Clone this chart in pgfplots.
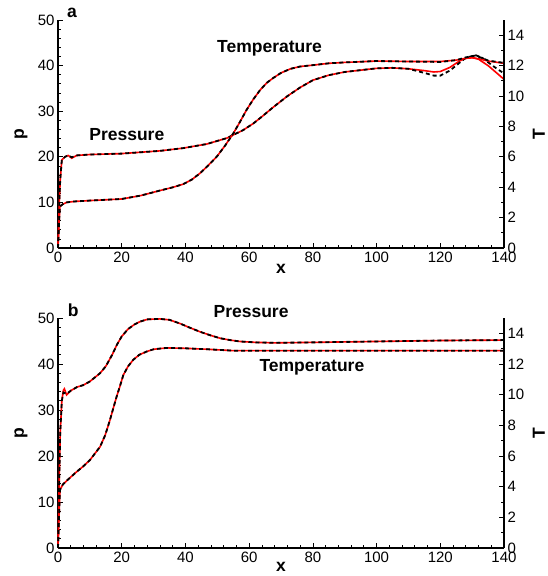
\documentclass[border=0pt]{standalone}
\usepackage{fontspec}
\setmainfont{Liberation Sans}
\usepackage{pgfplots}
\pgfplotsset{compat=1.18}
\begin{document}
\begin{tikzpicture}
\useasboundingbox (0,0) rectangle (548pt,576pt);
\tikzset{
  redl/.style={red, line width=1.6pt},
  blkl/.style={black, line width=1.8pt, dash pattern=on 4pt off 3pt},
  lbl/.style={font=\fontsize{17.5}{17.5}\selectfont\bfseries}
}
\pgfplotsset{
  base/.style={scale only axis, width=446pt, xmin=0, xmax=140,
    tick align=inside, axis line style={line width=1.1pt},
    major tick length=5pt, minor tick length=3pt,
    every tick/.style={black, line width=0.7pt},
    tick label style={font=\fontsize{15}{15}\selectfont},
    /pgf/number format/assume math mode=true, clip=false,
    label style={font=\fontsize{17.5}{17.5}\selectfont\bfseries}},
  leftax/.style={base, axis x line*=bottom, axis y line*=left,
    ymin=0, ymax=50, ytick={0,10,...,50}, xtick={0,20,...,140},
    minor x tick num=4, minor y tick num=4,
    xlabel={x}, ylabel={p},
    ylabel style={at={(axis description cs:-0.083,0.5)}, anchor=center, rotate=0}},
  rightax/.style={base, axis y line*=right, axis x line=none,
    ymin=0, ymax=15, ytick={0,2,...,14}, minor y tick num=1,
    ylabel={T},
    ylabel style={at={(axis description cs:1.078,0.5)}, anchor=center, rotate=0}}
}
% ---------- panel a ----------
\begin{axis}[leftax, height=228pt, at={(58pt,328pt)}, anchor=south west,
  xlabel style={at={(axis description cs:0.5,-0.09)}, anchor=center}]
\addplot[redl] coordinates {(0,0) (0.3,8) (0.7,15) (1.2,19.3) (2.2,20.0) (3.2,20.3) (4.3,19.7) (5.9,20.3) (10,20.5) (20,20.7) (32,21.3) (39.3,21.9) (46.7,22.8) (53,24.1) (55,24.8) (58,25.8) (61.3,27.3) (64,28.8) (67.6,30.9) (72,33.3) (76,35.2) (80,36.8) (85,37.9) (90,38.6) (95,39.0) (100,39.4) (105,39.5) (110,39.3) (115,38.9) (118,38.6) (120,38.7) (123,39.6) (126,41.0) (128,41.6) (130,41.8) (132,41.4) (135,40.0) (138,38.2) (140,37.0)};
\addplot[blkl] coordinates {(0,0) (0.3,8) (0.7,15) (1.2,19.3) (2.2,20.0) (3.2,20.3) (4.3,19.9) (5.9,20.3) (10,20.5) (20,20.7) (32,21.3) (39.3,21.9) (46.7,22.8) (53,24.1) (55,24.8) (58,25.8) (61.3,27.3) (64,28.8) (67.6,30.9) (72,33.3) (76,35.2) (80,36.8) (85,37.9) (90,38.6) (95,39.0) (100,39.4) (105,39.5) (110,39.3) (115,38.4) (118,37.8) (120,37.8) (123,38.9) (126,40.6) (128,41.7) (131,42.3) (133,41.8) (136,40.2) (138,39.2) (140,38.3)};
\addplot[redl] coordinates {(0,0) (0.3,5) (0.6,9.1) (1.5,9.6) (2.7,10.0) (5,10.2) (10,10.4) (20,10.75) (26,11.5) (32,12.6) (36,13.3) (39.3,14.0) (42,15.0) (44.6,16.4) (47,18.0) (49.8,20.0) (52.5,22.5) (55,25.1) (57,27.5) (59.2,30.3) (61.3,32.6) (63.4,34.6) (65.5,36.2) (67.6,37.3) (70,38.4) (73,39.3) (76,39.8) (80,40.1) (85,40.5) (90,40.7) (100,41.0) (110,40.9) (120,40.9) (125,41.2) (128,41.6) (130,41.7) (132,41.5) (135,41.0) (138,40.7) (140,40.5)};
\addplot[blkl] coordinates {(0,0) (0.3,5) (0.6,9.1) (1.5,9.6) (2.7,10.0) (5,10.2) (10,10.4) (20,10.75) (26,11.5) (32,12.6) (36,13.3) (39.3,14.0) (42,15.0) (44.6,16.4) (47,18.0) (49.8,20.0) (52.5,22.5) (55,25.1) (57,27.5) (59.2,30.3) (61.3,32.6) (63.4,34.6) (65.5,36.2) (67.6,37.3) (70,38.4) (73,39.3) (76,39.8) (80,40.1) (85,40.5) (90,40.7) (100,41.0) (110,40.9) (120,40.8) (125,41.2) (128,41.8) (131,42.2) (133,41.7) (135,41.1) (138,40.8) (140,40.6)};
\node[lbl] at (axis cs:21.6,24.8) {Pressure};
\node[lbl] at (axis cs:66.4,43.9) {Temperature};
\node[lbl] at (axis cs:4.4,51.5) {a};
\end{axis}
\begin{axis}[rightax, height=228pt, at={(58pt,328pt)}, anchor=south west]
\end{axis}
% ---------- panel b ----------
\begin{axis}[leftax, height=230pt, at={(58pt,28pt)}, anchor=south west,
  xlabel style={at={(axis description cs:0.5,-0.083)}, anchor=center}]
\addplot[redl] coordinates {(0,0) (0.3,12) (0.7,25) (1.2,32) (1.7,34.3) (2.0,34.6) (2.7,33.3) (4,34.2) (6,35.0) (7.9,35.4) (10,36.2) (13.2,38.0) (15,39.5) (17,42) (18.5,44.2) (20,46.0) (22,47.6) (24,48.6) (25.7,49.2) (28,49.7) (32,49.8) (35,49.6) (38.3,48.8) (41,48.0) (44.6,47.0) (48,46.2) (50.9,45.6) (54,45.2) (57.1,44.9) (62,44.7) (68,44.6) (80,44.7) (100,44.9) (120,45.1) (140,45.2)};
\addplot[blkl] coordinates {(0,0) (0.3,12) (0.7,25) (1.2,32) (1.7,33.8) (2.7,33.5) (4,34.2) (6,35.0) (7.9,35.4) (10,36.2) (13.2,38.0) (15,39.5) (17,42) (18.5,44.2) (20,46.0) (22,47.6) (24,48.6) (25.7,49.2) (28,49.7) (32,49.8) (35,49.6) (38.3,48.8) (41,48.0) (44.6,47.0) (48,46.2) (50.9,45.6) (54,45.2) (57.1,44.9) (62,44.7) (68,44.6) (80,44.7) (100,44.9) (120,45.1) (140,45.2)};
\addplot[redl] coordinates {(0,0) (0.3,6) (0.6,12.6) (1.5,13.8) (3,14.8) (5.9,16.6) (8,17.8) (10,19.1) (13.2,22.0) (14.8,24.5) (16.3,27.8) (17.4,30.5) (18.4,32.9) (19.5,35.3) (20.5,37.6) (22,39.5) (23.6,40.9) (25.5,42.0) (27.8,42.7) (30,43.2) (34.1,43.5) (40.4,43.4) (47,43.2) (55,42.9) (70,42.9) (100,42.9) (140,42.9)};
\addplot[blkl] coordinates {(0,0) (0.3,6) (0.6,12.6) (1.5,13.8) (3,14.8) (5.9,16.6) (8,17.8) (10,19.1) (13.2,22.0) (14.8,24.5) (16.3,27.8) (17.4,30.5) (18.4,32.9) (19.5,35.3) (20.5,37.6) (22,39.5) (23.6,40.9) (25.5,42.0) (27.8,42.7) (30,43.2) (34.1,43.5) (40.4,43.4) (47,43.2) (55,42.9) (70,42.9) (100,42.9) (140,42.9)};
\node[lbl] at (axis cs:60.6,51.5) {Pressure};
\node[lbl] at (axis cs:79.7,39.3) {Temperature};
\node[lbl] at (axis cs:4.8,51.7) {b};
\end{axis}
\begin{axis}[rightax, height=230pt, at={(58pt,28pt)}, anchor=south west]
\end{axis}
\end{tikzpicture}
\end{document}
